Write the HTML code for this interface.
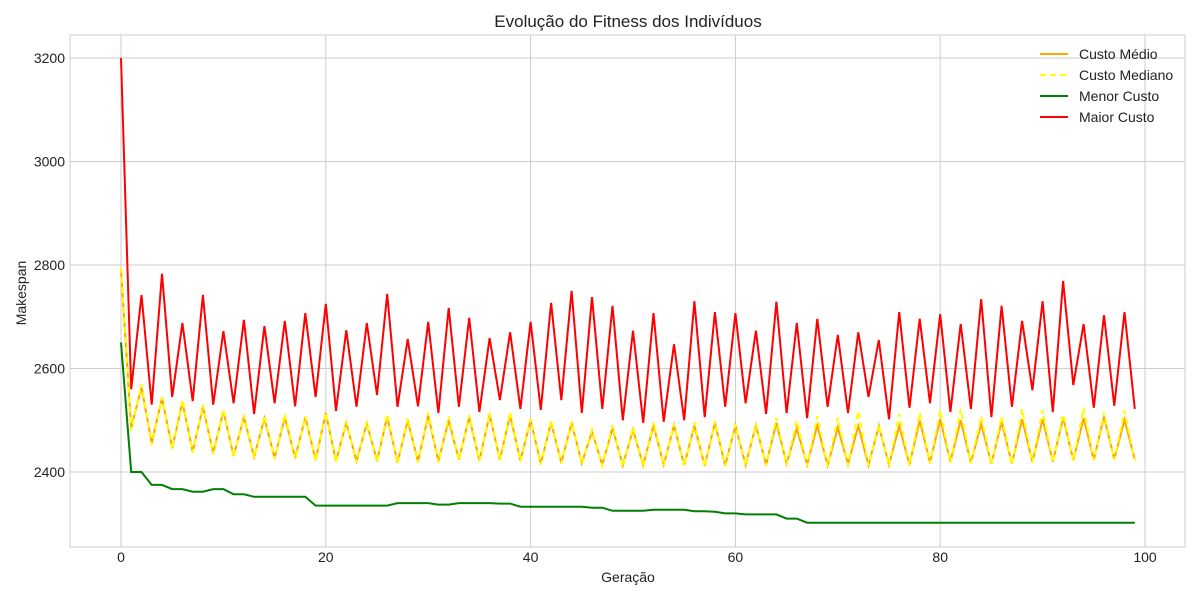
<!DOCTYPE html>
<html><head><meta charset="utf-8"><style>
body{margin:0;background:#fff;}
svg{display:block;font-family:"Liberation Sans","DejaVu Sans",sans-serif;}
</style></head><body>
<svg id="chart" width="1200" height="600" viewBox="0 0 1200 600">
<rect x="0" y="0" width="1200" height="600" fill="#fff"/>
<text x="628" y="27" text-anchor="middle" font-size="17" fill="#222">Evolução do Fitness dos Indivíduos</text>
<g id="grid"></g>
<g id="series"></g>
<rect x="70" y="35" width="1115" height="512" fill="none" stroke="#ccc" stroke-width="1"/>
<text x="628" y="582" text-anchor="middle" font-size="14" fill="#222">Geração</text>
<text transform="translate(26,293) rotate(-90)" text-anchor="middle" font-size="14" fill="#222">Makespan</text>
<g id="legend"></g>
</svg>
<script>
const xTicks=[0,20,40,60,80,100];
const yTicks=[2400,2600,2800,3000,3200];
const seriesNames=["Custo Médio","Custo Mediano","Menor Custo","Maior Custo"];
const maxCost=[3200,2560,2742,2530,2783,2545,2688,2537,2742,2530,2672,2533,2694,2512,2682,2533,2692,2527,2707,2545,2725,2518,2674,2526,2688,2549,2744,2526,2657,2527,2690,2514,2717,2526,2698,2516,2659,2539,2670,2522,2690,2520,2727,2539,2750,2514,2738,2522,2721,2500,2673,2495,2707,2497,2647,2500,2730,2506,2709,2526,2707,2533,2673,2512,2729,2514,2688,2504,2696,2526,2665,2514,2670,2545,2655,2502,2709,2524,2696,2533,2705,2516,2686,2522,2734,2506,2721,2526,2692,2558,2730,2516,2769,2568,2686,2524,2703,2528,2709,2522];
const minCost=[2650,2400,2400,2375,2375,2367,2367,2362,2362,2367,2367,2357,2357,2352,2352,2352,2352,2352,2352,2335,2335,2335,2335,2335,2335,2335,2335,2340,2340,2340,2340,2337,2337,2340,2340,2340,2340,2339,2339,2333,2333,2333,2333,2333,2333,2333,2331,2331,2325,2325,2325,2325,2327,2327,2327,2327,2324,2324,2323,2320,2320,2318,2318,2318,2318,2310,2310,2302,2302,2302,2302,2302,2302,2302,2302,2302,2302,2302,2302,2302,2302,2302,2302,2302,2302,2302,2302,2302,2302,2302,2302,2302,2302,2302,2302,2302,2302,2302,2302,2302];
const meanCost=[2790,2485,2564,2456,2543,2446,2535,2439,2526,2437,2518,2431,2506,2429,2504,2427,2506,2427,2506,2423,2514,2421,2495,2421,2494,2421,2507,2418,2500,2420,2509,2421,2500,2424,2506,2422,2511,2424,2510,2422,2500,2416,2496,2418,2495,2417,2478,2414,2485,2413,2482,2413,2490,2414,2490,2413,2490,2412,2495,2413,2489,2414,2490,2414,2495,2416,2484,2414,2490,2413,2486,2415,2489,2413,2489,2414,2489,2414,2500,2418,2502,2420,2500,2418,2493,2416,2497,2416,2502,2420,2502,2420,2505,2423,2504,2424,2507,2425,2501,2424];
const medianCost=[2796,2480,2570,2452,2545,2443,2540,2437,2530,2434,2522,2428,2510,2427,2508,2425,2512,2424,2508,2420,2515,2418,2498,2418,2497,2418,2512,2416,2505,2418,2515,2418,2507,2422,2510,2421,2515,2422,2516,2420,2503,2414,2500,2416,2498,2415,2482,2412,2490,2410,2487,2410,2496,2412,2493,2411,2496,2410,2499,2411,2492,2412,2493,2412,2505,2414,2500,2412,2508,2411,2505,2413,2518,2412,2492,2412,2512,2412,2515,2416,2520,2418,2522,2416,2508,2414,2508,2414,2522,2418,2520,2418,2512,2421,2524,2422,2515,2423,2518,2422];

const NS="http://www.w3.org/2000/svg";
const L=70,R=1185,T=35,B=547;
function xs(v){return 121+(v-0)*(1145-121)/100;}
function ys(v){return 472-(v-2400)*(472-58)/800;}
const grid=document.getElementById('grid');
const svg=document.getElementById('chart');
xTicks.forEach(t=>{
  const l=document.createElementNS(NS,'line');
  l.setAttribute('x1',xs(t));l.setAttribute('x2',xs(t));l.setAttribute('y1',T);l.setAttribute('y2',B);
  l.setAttribute('stroke','#ccc');l.setAttribute('stroke-width','1');
  
  
  grid.appendChild(l);
  const tx=document.createElementNS(NS,'text');
  tx.setAttribute('x',xs(t));tx.setAttribute('y',562);tx.setAttribute('text-anchor','middle');
  tx.setAttribute('font-size','14');tx.setAttribute('fill','#222');tx.textContent=t;
  
  
  svg.appendChild(tx);
});
yTicks.forEach(t=>{
  const l=document.createElementNS(NS,'line');
  l.setAttribute('x1',L);l.setAttribute('x2',R);l.setAttribute('y1',ys(t));l.setAttribute('y2',ys(t));
  l.setAttribute('stroke','#ccc');l.setAttribute('stroke-width','1');
  
  
  grid.appendChild(l);
  const tx=document.createElementNS(NS,'text');
  tx.setAttribute('x',65);tx.setAttribute('y',ys(t)+5);tx.setAttribute('text-anchor','end');
  tx.setAttribute('font-size','14');tx.setAttribute('fill','#222');tx.textContent=t;
  
  
  svg.appendChild(tx);
});
const sg=document.getElementById('series');
const specs=[[meanCost,'#ffa500',null,'line-custo-medio'],[medianCost,'#ffff00','6,4','line-custo-mediano'],[minCost,'#008000',null,'line-menor-custo'],[maxCost,'#ff0000',null,'line-maior-custo']];
specs.forEach(s=>{
  const p=document.createElementNS(NS,'polyline');
  p.setAttribute('points',s[0].map((v,i)=>xs(i).toFixed(1)+','+ys(v).toFixed(1)).join(' '));
  p.setAttribute('fill','none');p.setAttribute('stroke',s[1]);p.setAttribute('stroke-width','2');
  if(s[2])p.setAttribute('stroke-dasharray',s[2]);
  
  
  sg.appendChild(p);
});
const lg=document.getElementById('legend');
specs.forEach((s,i)=>{
  const y=54+i*21;
  const l=document.createElementNS(NS,'line');
  l.setAttribute('x1',1040);l.setAttribute('x2',1068);l.setAttribute('y1',y);l.setAttribute('y2',y);
  l.setAttribute('stroke',s[1]);l.setAttribute('stroke-width','2');
  if(s[2])l.setAttribute('stroke-dasharray',s[2]);
  
  
  lg.appendChild(l);
  const t=document.createElementNS(NS,'text');
  t.setAttribute('x',1079);t.setAttribute('y',y+5);t.setAttribute('font-size','14');t.setAttribute('fill','#222');
  t.textContent=seriesNames[i];
  
  
  lg.appendChild(t);
});
</script>
</body></html>
